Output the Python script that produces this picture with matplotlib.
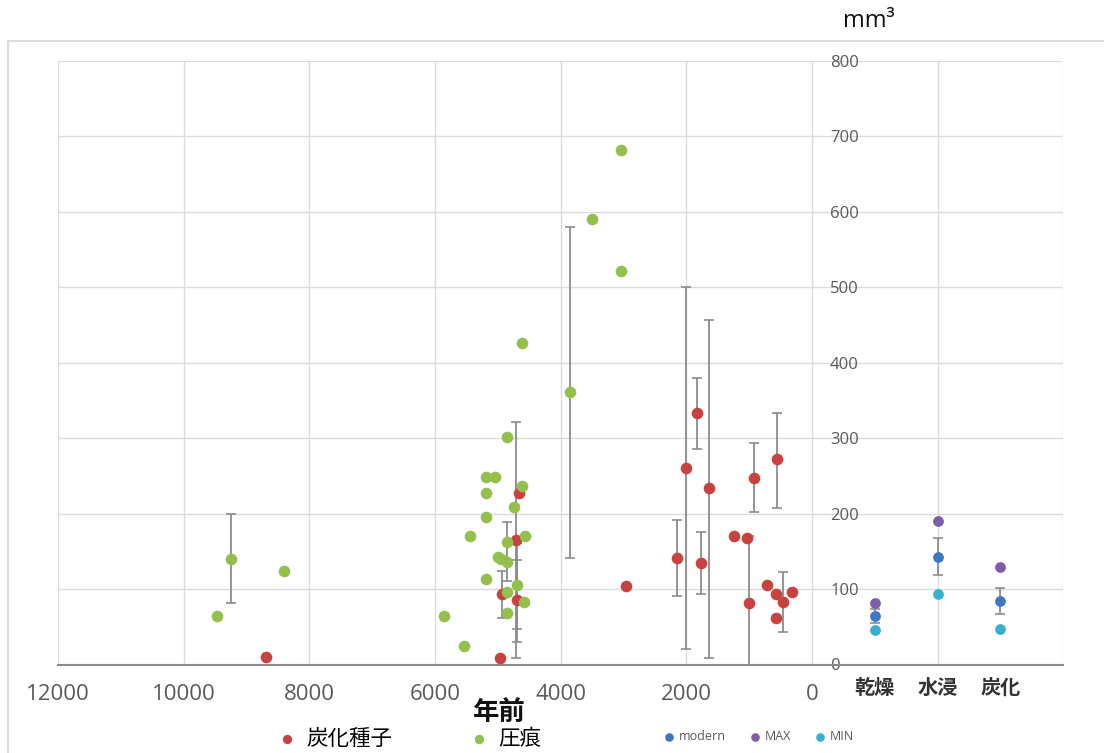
import matplotlib
matplotlib.use('Agg')
import matplotlib.pyplot as plt
import matplotlib.patches as patches
import numpy as np

plt.rcParams['font.family'] = ['Open Sans', 'Noto Sans CJK JP', 'DejaVu Sans']
JP = ['Noto Sans CJK JP', 'DejaVu Sans']

# 炭化種子 (charred seeds): years before present, volume mm3
seed_year = [8687, 4960, 4937, 4710, 4689, 4657, 2960, 2153, 2005, 1830, 1766,
             1634, 1236, 1034, 1002, 928, 716, 568, 562, 457, 326, 568]
seed_vol = [10, 8, 93, 165, 85, 227, 104, 141, 260, 333, 135,
            234, 170, 168, 81, 247, 105, 93, 272, 83, 96, 61]

# 圧痕 (impressions)
imp_year = [9472, 9249, 8406, 5850, 5542, 5437, 5187, 5039, 5187, 5187, 5187,
            4858, 4614, 4614, 4741, 4561, 4858, 4996, 4953, 4858, 4699, 4858,
            4587, 4858, 3850, 3505, 3039, 3039]
imp_vol = [64, 140, 124, 64, 25, 171, 249, 249, 227, 195, 113,
           302, 426, 237, 209, 171, 162, 143, 140, 136, 105, 96,
           83, 68, 361, 590, 682, 521]

# error bars (year, low, high)
err_year = [9249, 4858, 4937, 4710, 4689, 4699, 3850, 2153, 2005, 1830, 1766,
            1634, 1002, 928, 562, 457]
err_low = [82, 111, 62, 8, 30, 47, 141, 91, 20, 286, 93, 9, -9, 202, 208, 43]
err_high = [199, 189, 124, 322, 139, 161, 580, 192, 500, 380, 176, 457, 171,
            293, 333, 123]

# modern reference
kinds = ['乾燥', '水浸', '炭化']
modern = [64, 143, 84]
modern_err = [9, 25, 17]
v_max = [82, 190, 129]
v_min = [46, 94, 47]

RED = '#c8423f'
GREEN = '#93bf4c'
BLUE = '#3d78c2'
PURPLE = '#7f5ea8'
TEAL = '#3bb0cc'
GRID = '#dcdcdc'
TXT = '#595959'

W, H = 1104, 753
fig = plt.figure(figsize=(W / 100, H / 100), dpi=100)

fig.patches.append(patches.Rectangle((8 / W, -0.1), 1.2, (H - 41) / H + 0.1,
                                     transform=fig.transFigure, fill=False,
                                     ec=GRID, lw=1.5))

bot = (H - 664.5) / H
hgt = (664.5 - 61) / H
ax = fig.add_axes([58 / W, bot, (812 - 58) / W, hgt])
ax2 = fig.add_axes([812 / W, bot, (1063 - 812) / W, hgt])

for a in (ax, ax2):
    a.set_ylim(0, 800)
    a.set_yticks(np.arange(0, 801, 100))
    a.grid(True, color=GRID, lw=1)
    a.set_axisbelow(True)
    for s in ('left', 'right', 'top'):
        a.spines[s].set_visible(False)
    a.spines['bottom'].set_color('#8a8a8a')
    a.spines['bottom'].set_linewidth(1.5)
    a.tick_params(length=0)

# left: time axis
ax.set_xlim(12000, 0)
ax.set_xticks(np.arange(0, 12001, 2000))
ax.set_xticklabels([str(v) for v in np.arange(0, 12001, 2000)])
ax.tick_params(axis='x', labelsize=16, labelcolor=TXT, pad=14)
ax.set_yticklabels([])

lo = np.array(err_low)
hi = np.array(err_high)
ax.errorbar(err_year, (lo + hi) / 2, yerr=(hi - lo) / 2, fmt='none',
            ecolor='#8c8c8c', elinewidth=1.3, capsize=3.5, capthick=1.2, zorder=2)
sc_r = ax.scatter(seed_year, seed_vol, s=70, color=RED, zorder=3, lw=0)
sc_g = ax.scatter(imp_year, imp_vol, s=70, color=GREEN, zorder=3, lw=0)

# right: modern values
xc = np.arange(1, len(kinds) + 1)
ax2.xaxis.remove_overlapping_locs = False
ax2.set_xlim(0, 4)
ax2.set_xticks([0, 2, 4])
ax2.set_xticks(xc, minor=True)
ax2.set_xticklabels([])
ax2.set_xticklabels(kinds, minor=True)
ax2.tick_params(axis='x', which='minor', length=0, pad=9)
for t in ax2.get_xticklabels(minor=True):
    t.set_family(JP)
    t.set_fontsize(14.5)
    t.set_fontweight('bold')
    t.set_color('#333333')
ax2.set_yticklabels([str(v) for v in np.arange(0, 801, 100)])
ax2.tick_params(axis='y', labelsize=12, labelcolor=TXT, pad=-13)
for t in ax2.get_yticklabels():
    t.set_ha('left')

ax2.errorbar(xc, modern, yerr=modern_err, fmt='none', ecolor='#8c8c8c',
             elinewidth=1.3, capsize=3.5, capthick=1.2, zorder=2)
sc_m = ax2.scatter(xc, modern, s=60, color=BLUE, zorder=3, lw=0)
sc_x = ax2.scatter(xc, v_max, s=60, color=PURPLE, zorder=3, lw=0)
sc_n = ax2.scatter(xc, v_min, s=60, color=TEAL, zorder=3, lw=0)

fig.text(499 / W, 1 - 712 / H, '年前', family=JP, fontsize=19,
         fontweight='bold', ha='center', va='center', color='#111111')
fig.text(869 / W, 1 - 21 / H, 'mm³', fontsize=17, ha='center', va='center',
         color='#111111')

leg1 = fig.legend([sc_r, sc_g], ['炭化種子', '圧痕'], ncol=2, frameon=False,
                  loc='center left', bbox_to_anchor=(276 / W, 1 - 739 / H),
                  prop={'family': JP, 'size': 15.5}, handlelength=1,
                  handletextpad=0.4, columnspacing=3.55, markerscale=0.8,
                  borderpad=0, borderaxespad=0)
leg2 = fig.legend([sc_m, sc_x, sc_n], ['modern', 'MAX', 'MIN'], ncol=3,
                  frameon=False, loc='center left',
                  bbox_to_anchor=(663 / W, 1 - 737 / H),
                  prop={'size': 9}, handlelength=1, handletextpad=0.3,
                  columnspacing=1.8, markerscale=0.8, labelcolor=TXT,
                  borderpad=0, borderaxespad=0)

fig.savefig('out.png', dpi=100)
